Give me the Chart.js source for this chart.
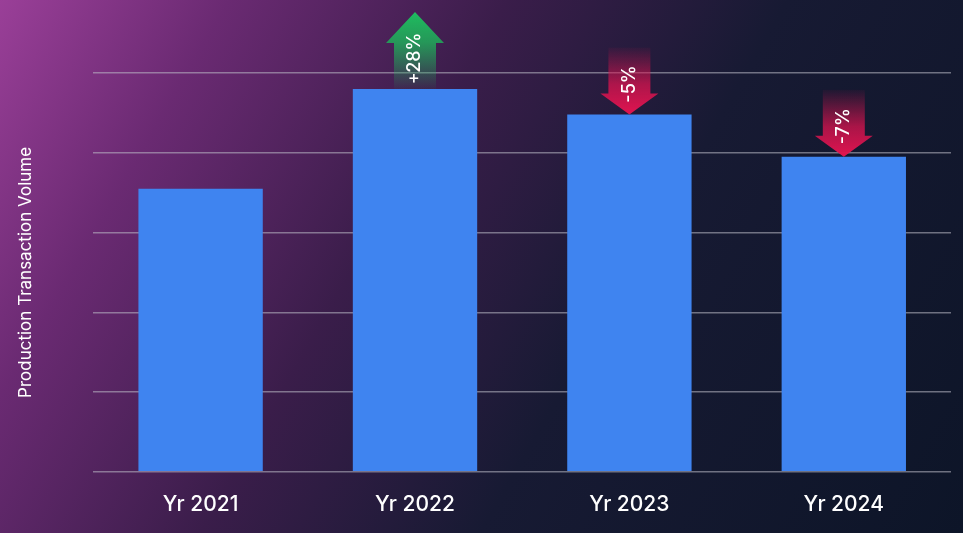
<!DOCTYPE html>
<html><head><meta charset="utf-8">
<script src="https://cdn.jsdelivr.net/npm/chart.js@4"></script>
<style>
html,body{margin:0;padding:0;width:963px;height:533px;overflow:hidden}
body{background:linear-gradient(120deg,#9a3f98 0%,#6a2a72 18%,#3a1d4a 40%,#171a33 62%,#0d1528 100%)}
#w{position:absolute;left:0;top:0;width:963px;height:533px}
</style></head><body>
<div id="w"><canvas id="c"></canvas></div>
<script>
const categories = ["Yr 2021","Yr 2022","Yr 2023","Yr 2024"];
const volumes = [3.55, 4.8, 4.48, 3.95];
const changeLabels = [null, "+28%", "-5%", "-7%"];

const arrowPlugin = {
  id:'arrows',
  afterDatasetsDraw(chart){
    const ctx = chart.ctx, meta = chart.getDatasetMeta(0);
    meta.data.forEach((bar,i)=>{
      const lab = changeLabels[i]; if(!lab) return;
      const x = bar.x, top = bar.y, up = lab[0]==='+';
      const sw = 21, hw = 29, hh = 31, len = up ? 77 : 67;
      ctx.save();
      let g;
      if(up){
        const tip = top - len;
        g = ctx.createLinearGradient(0,top,0,tip);
        g.addColorStop(0,'rgba(30,180,90,0.05)');
        g.addColorStop(0.6,'rgba(30,180,90,0.8)');
        g.addColorStop(1,'rgba(30,190,95,1)');
        ctx.fillStyle=g;
        ctx.beginPath();
        ctx.moveTo(x-sw,top);ctx.lineTo(x-sw,tip+hh);ctx.lineTo(x-hw,tip+hh);
        ctx.lineTo(x,tip);ctx.lineTo(x+hw,tip+hh);ctx.lineTo(x+sw,tip+hh);ctx.lineTo(x+sw,top);
        ctx.closePath();ctx.fill();
      } else {
        const st = top - len, hb = top - 21;
        g = ctx.createLinearGradient(0,st,0,top);
        g.addColorStop(0,'rgba(220,20,80,0.05)');
        g.addColorStop(0.55,'rgba(220,20,80,0.75)');
        g.addColorStop(1,'rgba(225,20,80,1)');
        ctx.fillStyle=g;
        ctx.beginPath();
        ctx.moveTo(x-sw,st);ctx.lineTo(x-sw,hb);ctx.lineTo(x-hw,hb);
        ctx.lineTo(x,top);ctx.lineTo(x+hw,hb);ctx.lineTo(x+sw,hb);ctx.lineTo(x+sw,st);
        ctx.closePath();ctx.fill();
      }
      ctx.translate(x, up ? top-len/2+8 : top-len/2+3);
      ctx.rotate(-Math.PI/2);
      ctx.fillStyle='#ffffff';
      ctx.font='500 18px Inter, "Open Sans", sans-serif';
      ctx.textAlign='center';ctx.textBaseline='middle';
      ctx.fillText(lab,0,0);
      ctx.restore();
    });
  }
};

new Chart(document.getElementById('c'),{
  type:'bar',
  data:{labels:categories,datasets:[{data:volumes,backgroundColor:'#3f84f0',borderWidth:0,categoryPercentage:0.58,barPercentage:1}]},
  options:{
    responsive:true,maintainAspectRatio:false,animation:false,
    layout:{padding:{left:12,right:12,top:73,bottom:4}},
    plugins:{legend:{display:false},tooltip:{enabled:false}},
    scales:{
      y:{min:0,max:5,ticks:{display:false,stepSize:1},
         border:{display:false},
         grid:{color:'rgba(190,190,200,0.55)',lineWidth:1.5,drawTicks:false},
         title:{display:true,text:'Production Transaction Volume',color:'#ffffff',font:{size:17,family:'Inter, "Open Sans", sans-serif'},padding:{bottom:57}}},
      x:{grid:{display:false},border:{display:false},
         ticks:{color:'#ffffff',font:{size:21,weight:'500',family:'Inter, "Open Sans", sans-serif'},padding:12}}
    }
  },
  plugins:[arrowPlugin]
});
</script></body></html>
